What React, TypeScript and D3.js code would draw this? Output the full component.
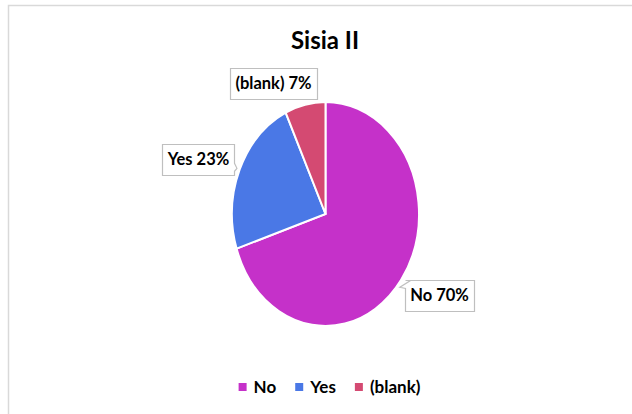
import React, { useEffect, useRef } from "react";
import * as d3 from "d3";

const categories = ["No", "Yes", "(blank)"];
const values = [70, 23, 7];
const colors = ["#C531C9", "#4A78E6", "#D44A72"];
const title = "Sisia II";

// layout constants (pixels)
const W = 632;
const H = 414;
const CX = 325.5;
const CY = 214;
const RX = 93.5;
const RY = 112;
const FONT = "Lato, 'Open Sans', sans-serif";
// label box centre offsets from pie centre, pointer side and tip angle fraction
const labelLayout = [
  { dx: 114, dy: 81, side: "topleft", tipAngle: 0.36 },
  { dx: -127, dy: -55, side: "right", tipAngle: 0.815 },
  { dx: -52, dy: -131, side: "bottom", tipAngle: 0.985 },
];

export default function App() {
  const ref = useRef<SVGSVGElement>(null);

  useEffect(() => {
    const svg = d3.select(ref.current);
    svg.selectAll("*").remove();

    svg
      .append("rect")
      .attr("x", 8.5)
      .attr("y", 5.5)
      .attr("width", 800)
      .attr("height", 600)
      .attr("fill", "#fff")
      .attr("stroke", "#D9D9D9")
      .attr("stroke-width", 1.5);

    svg
      .append("text")
      .attr("x", 325)
      .attr("y", 49)
      .attr("text-anchor", "middle")
      .attr("font-family", FONT)
      .attr("font-weight", "bold")
      .attr("font-size", 24)
      .attr("fill", "#000")
      .text(title);

    const pie = d3.pie<number>().sort(null).value((d) => d);
    const arcs = pie(values);
    const arc = d3.arc<d3.PieArcDatum<number>>().innerRadius(0).outerRadius(RY);

    const g = svg
      .append("g")
      .attr("transform", `translate(${CX},${CY}) scale(${RX / RY},1)`);
    g.selectAll("path")
      .data(arcs)
      .join("path")
      .attr("d", arc)
      .attr("fill", (_, i) => colors[i])
      .attr("stroke", "#fff")
      .attr("stroke-width", 2)
      .attr("vector-effect", "non-scaling-stroke");

    // labels
    const total = d3.sum(values);
    arcs.forEach((a, i) => {
      const lay = labelLayout[i];
      const tipA = lay.tipAngle * Math.PI * 2;
      const tipX = CX + Math.sin(tipA) * (RX + 3);
      const tipY = CY - Math.cos(tipA) * (RY + 3);
      const pct = Math.round((values[i] / total) * 100);
      const lg = svg.append("g");
      const t = lg
        .append("text")
        .attr("x", CX + lay.dx)
        .attr("y", CY + lay.dy)
        .attr("text-anchor", "middle")
        .attr("dominant-baseline", "central")
        .attr("font-family", FONT)
        .attr("font-weight", "bold")
        .attr("font-size", 16.5)
        .attr("fill", "#000")
        .text(`${categories[i]} ${pct}%`);
      const bb = (t.node() as SVGTextElement).getBBox();
      const padX = 5;
      const x0 = Math.round(bb.x - padX) + 0.5;
      const x1 = Math.round(bb.x + bb.width + padX) + 0.5;
      const y0 = Math.round(CY + lay.dy - 15.5) + 0.5;
      const y1 = y0 + 31;
      let d = "";
      if (lay.side === "bottom") {
        const bx = Math.min(x1 - 6, tipX - 2);
        d = `M${x0},${y0}H${x1}V${y1}H${bx + 1}L${tipX},${tipY}L${bx - 7},${y1}H${x0}Z`;
      } else if (lay.side === "right") {
        const by = Math.max(y0 + 8, Math.min(y1 - 6, tipY));
        d = `M${x0},${y0}H${x1}V${by - 5}L${tipX},${tipY}L${x1},${by + 3}V${y1}H${x0}Z`;
      } else {
        d = `M${x0},${y0}H${x1}V${y1}H${x0}V${y0 + 8}L${tipX},${tipY}L${x0 + 5},${y0}Z`;
      }
      lg.insert("path", "text")
        .attr("d", d)
        .attr("fill", "#fff")
        .attr("stroke", "#BFBFBF")
        .attr("stroke-width", 1.2);
      void a;
    });

    // legend
    const leg = svg.append("g");
    let x = 0;
    const items: { g: any; w: number }[] = [];
    categories.forEach((c, i) => {
      const ig = leg.append("g");
      ig.append("rect")
        .attr("x", 0)
        .attr("y", -4)
        .attr("width", 8)
        .attr("height", 8)
        .attr("fill", colors[i]);
      const tx = ig
        .append("text")
        .attr("x", 15)
        .attr("y", 6)
        .attr("font-family", FONT)
        .attr("font-weight", "bold")
        .attr("font-size", 17)
        .attr("fill", "#000")
        .text(c);
      const w = 15 + (tx.node() as SVGTextElement).getComputedTextLength();
      items.push({ g: ig, w });
    });
    const gap = 19;
    const totalW = d3.sum(items, (d) => d.w) + gap * (items.length - 1);
    x = 329.5 - totalW / 2;
    items.forEach((it) => {
      it.g.attr("transform", `translate(${x},387)`);
      x += it.w + gap;
    });
  }, []);

  return (
    <svg
      ref={ref}
      width={W}
      height={H}
      style={{ position: "absolute", left: 0, top: 0, background: "#fff" }}
    />
  );
}
